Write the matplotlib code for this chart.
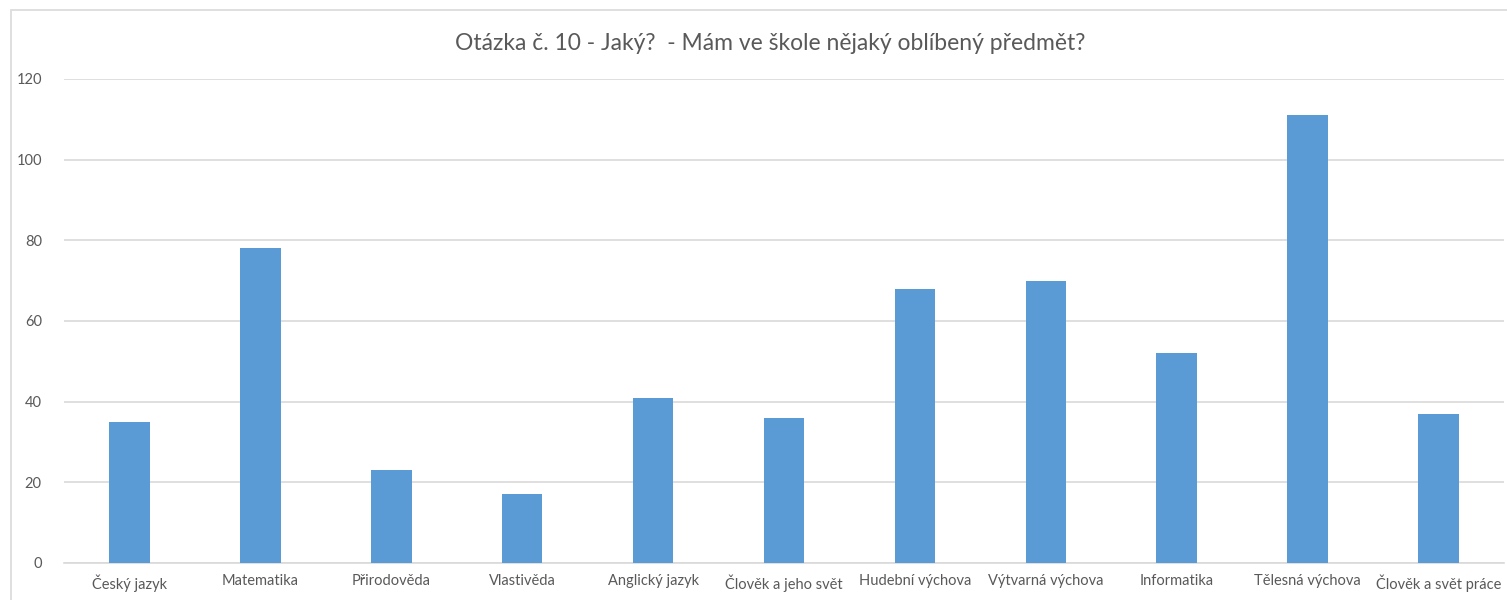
import matplotlib.pyplot as plt
from matplotlib.patches import Rectangle

# Data
subjects = ["Český jazyk", "Matematika", "Přirodověda", "Vlastivěda", "Anglický jazyk",
            "Člověk a jeho svět", "Hudební výchova", "Výtvarná výchova", "Informatika",
            "Tělesná výchova", "Člověk a svět práce"]
counts = [35, 78, 23, 17, 41, 36, 68, 70, 52, 111, 37]
yticks = [0, 20, 40, 60, 80, 100, 120]

W, H = 1507, 600
plt.rcParams['font.family'] = ['Lato', 'DejaVu Sans']
text_color = "#595959"
grid_color = "#d9d9d9"

fig = plt.figure(figsize=(W / 100, H / 100), dpi=100)

# Outer chart border (cut off at right and bottom as in the screenshot)
fig.patches.append(Rectangle((11 / W, -0.1), 1.0, 1 - 10 / H + 0.1, transform=fig.transFigure,
                             fill=False, edgecolor=grid_color, linewidth=1.2))

ax = fig.add_axes([64 / W, 1 - 563 / H, (1504 - 64) / W, (563 - 79) / H])
x = range(len(subjects))
ax.bar(x, counts, width=0.31, color="#5b9bd5", zorder=3)

ax.set_xlim(-0.5, len(subjects) - 0.5)
ax.set_ylim(0, 120)
ax.set_yticks(yticks)
ax.set_xticks(list(x))
ax.set_xticklabels(subjects)
ax.tick_params(axis='both', length=0, labelsize=10.5, colors=text_color)
ax.tick_params(axis='y', pad=16)
ax.tick_params(axis='x', pad=8)
ax.grid(axis='y', color=grid_color, linewidth=1.2, zorder=0)
for s in ["top", "right", "left"]:
    ax.spines[s].set_visible(False)
ax.spines["bottom"].set_color(grid_color)
ax.spines["bottom"].set_linewidth(1.2)

fig.text(770 / W, 1 - 43 / H, "Otázka č. 10 - Jaký?  - Mám ve škole nějaký oblíbený předmět?",
         ha='center', va='center', fontsize=16.5, color=text_color)

fig.savefig("out.png", dpi=100)
